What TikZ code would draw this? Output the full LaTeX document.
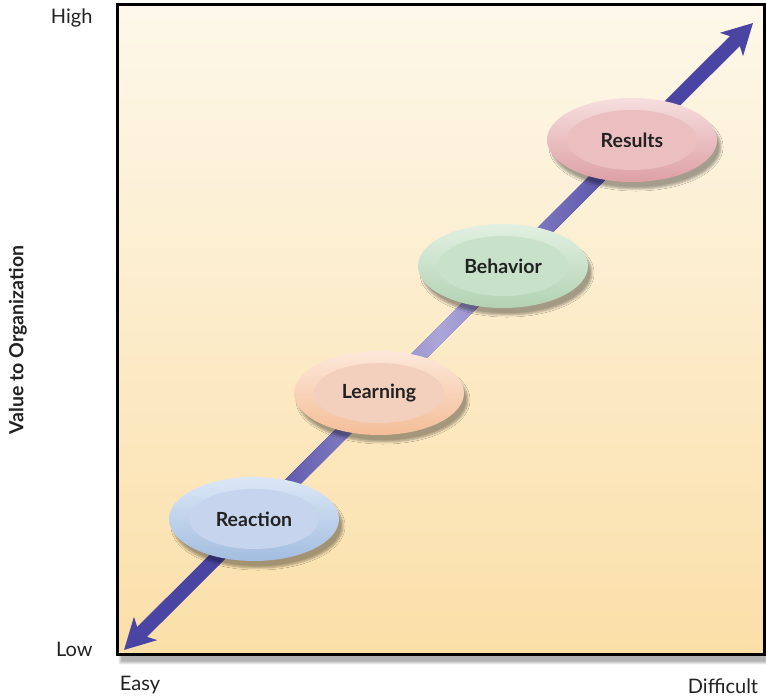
\documentclass[tikz,border=0pt]{standalone}
\usepackage{fontspec}
\setmainfont{Lato}
\usetikzlibrary{arrows.meta,shapes.geometric,shadows.blur}
\definecolor{bandDark}{HTML}{4A45A3}
\definecolor{bandLight}{HTML}{ABA5D8}
\definecolor{bgTop}{HTML}{FDF8EA}
\definecolor{bgBot}{HTML}{FBDFA8}
\definecolor{txt}{HTML}{222222}
\definecolor{reactTop}{HTML}{DCE8F6}
\definecolor{reactBot}{HTML}{A3BDE0}
\definecolor{reactIn}{HTML}{C6D4EE}
\definecolor{learnTop}{HTML}{FDE8DA}
\definecolor{learnBot}{HTML}{F4BE98}
\definecolor{learnIn}{HTML}{F3CFBD}
\definecolor{behavTop}{HTML}{E2F0E2}
\definecolor{behavBot}{HTML}{B2D3B3}
\definecolor{behavIn}{HTML}{C8E1C9}
\definecolor{resTop}{HTML}{F7DEDE}
\definecolor{resBot}{HTML}{DDA0A5}
\definecolor{resIn}{HTML}{EBBFC0}
\tikzset{
  level/.style n args={3}{ellipse, minimum width=170pt, minimum height=84pt,
    top color=#1, bottom color=#2, font=\fontsize{19.5}{22}\selectfont\bfseries, text=txt,
    blur shadow={shadow xshift=4pt, shadow yshift=-7pt, shadow opacity=35, shadow blur steps=8},
    path picture={\fill[#3] (path picture bounding box.center) ellipse (65pt and 30pt);}},
  axislabel/.style={font=\fontsize{20}{23}\selectfont, text=txt}
}
\begin{document}
\begin{tikzpicture}[x=1pt,y=1pt]
  \useasboundingbox (0,0) rectangle (766,696);
  \path[blur shadow={shadow xshift=3pt, shadow yshift=-8pt, shadow opacity=30}, top color=bgTop, bottom color=bgBot]
    (117,41) rectangle (764,691);
  \draw[line width=3pt] (117,41) rectangle (764,691);
  \coordinate (lo) at (124,46);
  \coordinate (hi) at (753,673);
  \draw[bandDark, line width=14pt, {Stealth[length=30pt,width=32pt,inset=8pt]}-{Stealth[length=30pt,width=32pt,inset=8pt]}]
    (lo) -- (hi);
  \node[rectangle, minimum width=560pt, minimum height=14pt, inner sep=0pt, rotate=45,
    left color=bandDark, right color=bandDark, middle color=bandLight] (band) at (438.5,359.5) {};
  \node[level={reactTop}{reactBot}{reactIn}] (reaction) at (254,177) {Reaction};
  \node[level={learnTop}{learnBot}{learnIn}] (learning) at (379,303) {Learning};
  \node[level={behavTop}{behavBot}{behavIn}] (behavior) at (503,430) {Behavior};
  \node[level={resTop}{resBot}{resIn}] (results) at (632,556) {Results};
  \node[axislabel, anchor=east] (high) at (96,678) {High};
  \node[axislabel, anchor=east] (low) at (96,47) {Low};
  \node[axislabel] (easy) at (140,11) {Easy};
  \node[axislabel] (difficult) at (723,10) {Difficult};
  \node[axislabel, font=\fontsize{19.5}{22}\selectfont\bfseries, rotate=90] (value) at (18,356) {Value to Organization};
\end{tikzpicture}
\end{document}
